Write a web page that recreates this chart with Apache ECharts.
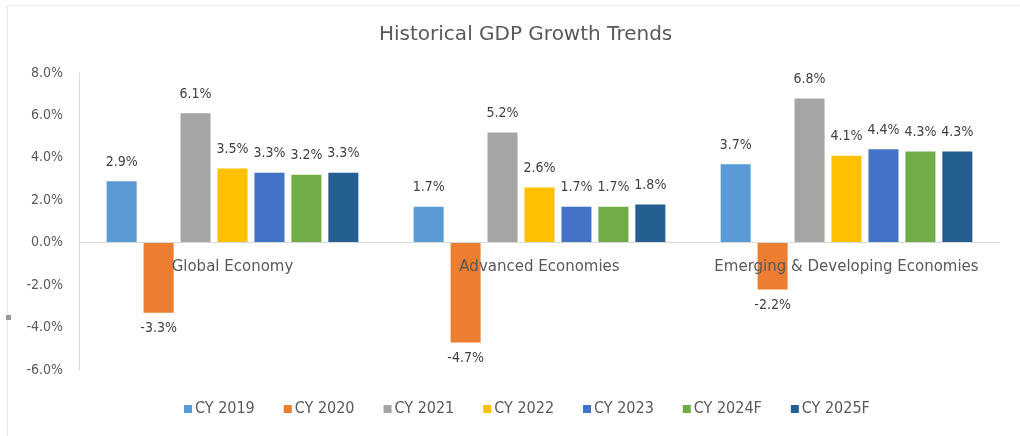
<!DOCTYPE html>
<html>
<head>
<meta charset="utf-8">
<script src="https://cdn.jsdelivr.net/npm/echarts@6/dist/echarts.min.js"></script>
<style>html,body{margin:0;padding:0;background:#fff}#c{width:1020px;height:436px}</style>
</head>
<body>
<div id="c"></div>
<script>
var categories = ['Global Economy', 'Advanced Economies', 'Emerging & Developing Economies'];
var seriesNames = ['CY 2019', 'CY 2020', 'CY 2021', 'CY 2022', 'CY 2023', 'CY 2024F', 'CY 2025F'];
var cy2019 = [2.9, 1.7, 3.7];
var cy2020 = [-3.3, -4.7, -2.2];
var cy2021 = [6.1, 5.2, 6.8];
var cy2022 = [3.5, 2.6, 4.1];
var cy2023 = [3.3, 1.7, 4.4];
var cy2024F = [3.2, 1.7, 4.3];
var cy2025F = [3.3, 1.8, 4.3];
var colors = ['#5B9BD5', '#ED7D31', '#A5A5A5', '#FFC000', '#4472C4', '#70AD47', '#255E91'];
var seriesValues = [cy2019, cy2020, cy2021, cy2022, cy2023, cy2024F, cy2025F];

var font = 'DejaVu Sans Condensed';
var wideFont = 'DejaVu Sans';
var chart = echarts.init(document.getElementById('c'));
var series = seriesNames.map(function (name, i) {
  return {
    name: name,
    type: 'bar',
    barCategoryGap: '18%',
    barGap: '23%',
    itemStyle: { color: colors[i] },
    data: seriesValues[i].map(function (v) {
      return {
        value: v,
        label: { position: v < 0 ? 'bottom' : 'top', distance: v < 0 ? 9 : 12 }
      };
    }),
    label: {
      show: true,
      color: '#404040',
      fontFamily: font,
      fontSize: 14,
      formatter: function (p) { return p.value.toFixed(1) + '%'; }
    }
  };
});

chart.setOption({
  backgroundColor: '#ffffff',
  animation: false,
  title: {
    text: 'Historical GDP Growth Trends',
    left: 374,
    top: 20,
    textStyle: { color: '#595959', fontFamily: wideFont, fontSize: 20, fontWeight: 'normal' }
  },
  legend: {
    bottom: 14,
    left: 179,
    itemWidth: 8,
    itemHeight: 8,
    itemGap: 29,
    icon: 'rect',
    textStyle: { color: '#595959', fontFamily: font, fontSize: 16, padding: [0, 0, 0, -2] },
    data: seriesNames
  },
  grid: { left: 79, right: 20, top: 73, bottom: 66 },
  xAxis: {
    type: 'category',
    data: categories,
    axisLine: { onZero: true, lineStyle: { color: '#d9d9d9', width: 1 } },
    axisTick: { show: false },
    axisLabel: { color: '#595959', fontFamily: wideFont, fontSize: 15, margin: -110, interval: 0 },
    z: 10
  },
  yAxis: {
    type: 'value',
    min: -6,
    max: 8,
    interval: 2,
    splitLine: { show: false },
    axisLine: { show: true, lineStyle: { color: '#d9d9d9' } },
    axisTick: { show: false },
    axisLabel: {
      color: '#595959', fontFamily: font, fontSize: 14, margin: 16,
      formatter: function (v) { return v.toFixed(1) + '%'; }
    }
  },
  graphic: [
    { type: 'line', shape: { x1: 7.5, y1: 5, x2: 7.5, y2: 436 }, style: { stroke: '#e6e6e6', lineWidth: 1 } },
    { type: 'line', shape: { x1: 7, y1: 5.5, x2: 1020, y2: 5.5 }, style: { stroke: '#eeeeee', lineWidth: 1 } },
    { type: 'rect', shape: { x: 6, y: 315, width: 5, height: 5 }, style: { fill: '#999999' } }
  ],
  series: series
});
</script>
</body>
</html>
